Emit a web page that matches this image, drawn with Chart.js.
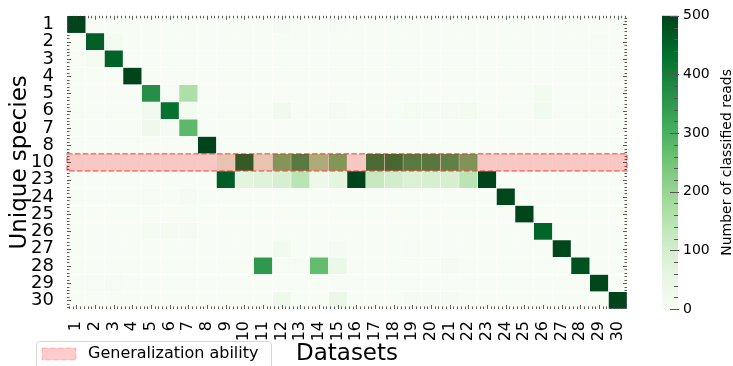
<!DOCTYPE html>
<html>
<head>
<meta charset="utf-8">
<script src="https://cdn.jsdelivr.net/npm/chart.js@4.4.0/dist/chart.umd.min.js"></script>
<style>
    html, body { margin: 0; padding: 0; background: #fff; }
</style>
</head>
<body>
<canvas id="myChart" width="733" height="366"></canvas>
<script>
// filas (especies) y columnas (datasets)
const species = ['1', '2', '3', '4', '5', '6', '7', '8', '10', '23', '24', '25', '26', '27', '28', '29', '30'];
const datasetNames = ['1', '2', '3', '4', '5', '6', '7', '8', '9', '10', '11', '12', '13', '14', '15',
    '16', '17', '18', '19', '20', '21', '22', '23', '24', '25', '26', '27', '28', '29', '30'];

// lecturas clasificadas por especie (fila) y dataset (columna 1..30)
const counts = [
    [500, 0, 0, 0, 0, 0, 0, 0, 0, 0, 0, 6, 0, 0, 5, 0, 0, 0, 0, 0, 0, 0, 0, 0, 0, 0, 0, 0, 0, 0],
    [0, 460, 15, 0, 0, 0, 0, 0, 0, 0, 0, 0, 0, 0, 0, 0, 0, 0, 0, 0, 0, 0, 0, 0, 0, 0, 0, 0, 4, 0],
    [0, 12, 455, 0, 0, 0, 0, 0, 0, 0, 0, 0, 0, 0, 0, 0, 0, 0, 0, 0, 0, 0, 0, 0, 0, 0, 0, 0, 0, 0],
    [0, 0, 0, 500, 0, 0, 0, 0, 0, 0, 0, 0, 0, 0, 0, 0, 0, 0, 0, 0, 0, 0, 0, 0, 0, 0, 0, 0, 0, 0],
    [0, 0, 0, 0, 370, 5, 165, 0, 0, 0, 0, 0, 0, 0, 0, 0, 0, 0, 0, 0, 0, 0, 0, 0, 0, 15, 0, 0, 0, 0],
    [0, 0, 0, 0, 20, 430, 15, 0, 0, 0, 0, 25, 0, 0, 8, 0, 0, 0, 12, 10, 8, 14, 0, 0, 0, 20, 0, 0, 0, 0],
    [0, 0, 0, 0, 30, 10, 280, 0, 0, 0, 0, 0, 0, 0, 0, 0, 0, 0, 0, 0, 0, 0, 0, 0, 0, 5, 0, 0, 0, 0],
    [0, 0, 0, 0, 0, 0, 0, 500, 0, 0, 0, 0, 0, 0, 0, 0, 0, 0, 0, 0, 0, 0, 0, 0, 0, 0, 0, 0, 0, 0],
    [0, 0, 0, 0, 0, 0, 0, 0, 70, 430, 70, 270, 350, 195, 270, 5, 385, 395, 350, 355, 330, 275, 0, 0, 0, 0, 0, 0, 0, 0],
    [0, 0, 0, 0, 0, 0, 0, 0, 460, 65, 75, 95, 145, 35, 65, 500, 125, 105, 85, 95, 95, 145, 500, 0, 0, 0, 0, 0, 0, 0],
    [0, 0, 0, 0, 5, 0, 10, 0, 0, 0, 0, 0, 0, 0, 0, 0, 0, 0, 0, 0, 0, 0, 0, 495, 0, 0, 0, 0, 0, 0],
    [0, 0, 0, 0, 0, 0, 0, 0, 0, 0, 0, 0, 0, 0, 0, 0, 0, 0, 0, 0, 0, 0, 0, 0, 500, 0, 0, 0, 0, 0],
    [0, 0, 0, 0, 12, 12, 6, 0, 0, 0, 0, 0, 0, 0, 0, 0, 0, 0, 0, 0, 0, 0, 0, 0, 0, 450, 0, 0, 0, 0],
    [0, 0, 0, 0, 0, 0, 0, 0, 0, 0, 0, 20, 0, 0, 8, 0, 0, 0, 5, 5, 0, 0, 0, 0, 0, 0, 495, 0, 0, 0],
    [0, 0, 0, 0, 0, 0, 0, 0, 0, 0, 350, 3, 5, 270, 40, 0, 0, 0, 0, 0, 8, 0, 0, 0, 0, 0, 0, 480, 0, 0],
    [0, 5, 5, 0, 0, 0, 0, 0, 0, 0, 0, 0, 0, 0, 0, 0, 0, 0, 0, 0, 0, 0, 0, 0, 0, 0, 0, 0, 495, 0],
    [0, 0, 0, 0, 0, 0, 0, 0, 0, 0, 0, 30, 0, 0, 40, 0, 0, 0, 8, 8, 8, 0, 0, 0, 0, 0, 0, 0, 0, 500]
];

const cbarTicks = [0, 100, 200, 300, 400, 500];
const vmax = 500;
const highlightRow = '10';
const legendText = 'Generalization ability';

// paleta Greens de matplotlib
const greens = [
    [247, 252, 245], [229, 245, 224], [199, 233, 192], [161, 217, 155], [116, 196, 118],
    [65, 171, 93], [35, 139, 69], [0, 109, 44], [0, 68, 27]
];

function colorVerde(v) {
    let t = Math.max(0, Math.min(1, v / vmax)) * (greens.length - 1);
    let i = Math.min(Math.floor(t), greens.length - 2);
    let f = t - i;
    let c = greens[i].map((a, k) => Math.round(a + (greens[i + 1][k] - a) * f));
    return 'rgb(' + c.join(',') + ')';
}

Chart.defaults.font.family = 'DejaVu Sans';
Chart.defaults.color = '#000';

const datas = {
    labels: species,
    datasets: datasetNames.map((name, c) => ({
        label: name,
        data: species.map(() => 1),
        backgroundColor: species.map((s, r) => colorVerde(counts[r][c])),
        borderColor: '#ffffff',
        borderWidth: 0.5,
        borderSkipped: false,
        barPercentage: 1,
        categoryPercentage: 1
    }))
};

// banda, marcas, barra de color y leyenda
const decoracion = {
    id: 'decoracion',
    afterDatasetsDraw(chart) {
        const ctx = chart.ctx, area = chart.chartArea, y = chart.scales.y;
        const h = (y.bottom - y.top) / species.length;
        const yc = y.getPixelForValue(species.indexOf(highlightRow));
        ctx.save();
        ctx.fillStyle = 'rgba(255,0,0,0.2)';
        ctx.fillRect(area.left, yc - h / 2, area.right - area.left, h);
        ctx.setLineDash([5.5, 2.4]);
        ctx.lineWidth = 1.5;
        ctx.strokeStyle = 'rgba(255,0,0,0.5)';
        ctx.strokeRect(area.left, yc - h / 2, area.right - area.left, h);
        ctx.restore();
    },
    afterDraw(chart) {
        const ctx = chart.ctx, area = chart.chartArea, x = chart.scales.x, y = chart.scales.y;
        const h = (y.bottom - y.top) / species.length;
        ctx.save();
        ctx.strokeStyle = '#333';
        ctx.lineWidth = 0.8;
        ctx.beginPath();
        // marcas hacia adentro en los cuatro lados
        for (let j = -2; 0.5 + j * 0.2 < datasetNames.length; j++) {
            const v = 0.5 + j * 0.2;
            if (v < 0) continue;
            const px = Math.round(x.getPixelForValue(v)) + 0.5;
            const len = j % 5 === 0 ? 4 : 2.5;
            ctx.moveTo(px, area.top); ctx.lineTo(px, area.top + len);
            ctx.moveTo(px, area.bottom); ctx.lineTo(px, area.bottom - len);
        }
        for (let j = -2; 0.5 + j * 0.2 < species.length; j++) {
            const t = 0.5 + j * 0.2;
            if (t < 0) continue;
            const py = Math.round(y.top + t * h) + 0.5;
            const len = j % 5 === 0 ? 4 : 2.5;
            ctx.moveTo(area.left, py); ctx.lineTo(area.left + len, py);
            ctx.moveTo(area.right, py); ctx.lineTo(area.right - len, py);
        }
        ctx.stroke();

        // barra de color
        const cbX = 662, cbW = 16, cbTop = area.top, cbBot = area.bottom;
        const grad = ctx.createLinearGradient(0, cbBot, 0, cbTop);
        greens.forEach((c, i) => grad.addColorStop(i / (greens.length - 1), 'rgb(' + c.join(',') + ')'));
        ctx.fillStyle = grad;
        ctx.fillRect(cbX, cbTop, cbW, cbBot - cbTop);
        ctx.strokeStyle = '#555';
        ctx.lineWidth = 1;
        ctx.beginPath();
        for (let v = 0; v <= vmax; v += 20) {
            const py = Math.round(cbBot - v / vmax * (cbBot - cbTop)) + 0.5;
            const len = cbarTicks.includes(v) ? 8 : 4;
            ctx.moveTo(cbX + cbW - len, py); ctx.lineTo(cbX + cbW + (cbarTicks.includes(v) ? 1 : 0), py);
        }
        ctx.stroke();
        ctx.fillStyle = '#000';
        ctx.font = '14px "DejaVu Sans"';
        ctx.textAlign = 'left';
        ctx.textBaseline = 'middle';
        cbarTicks.forEach(v => {
            ctx.fillText(String(v), cbX + cbW + 5, cbBot - v / vmax * (cbBot - cbTop));
        });
        ctx.save();
        ctx.translate(727, (cbTop + cbBot) / 2);
        ctx.rotate(-Math.PI / 2);
        ctx.textAlign = 'center';
        ctx.fillText('Number of classified reads', 0, 0);
        ctx.restore();

        // leyenda
        ctx.beginPath();
        ctx.roundRect(36.5, 341.5, 235, 32, 3);
        ctx.fillStyle = 'rgba(255,255,255,0.8)';
        ctx.fill();
        ctx.strokeStyle = '#d6d6d6';
        ctx.lineWidth = 1;
        ctx.stroke();
        ctx.fillStyle = 'rgba(255,0,0,0.2)';
        ctx.fillRect(42, 348, 34, 12);
        ctx.setLineDash([5.5, 2.4]);
        ctx.strokeStyle = 'rgba(255,0,0,0.2)';
        ctx.strokeRect(42, 348, 34, 12);
        ctx.setLineDash([]);
        ctx.fillStyle = '#000';
        ctx.font = '16px "DejaVu Sans"';
        ctx.fillText(legendText, 88, 354);
        ctx.restore();
    }
};

const config = {
    type: 'bar',
    data: datas,
    options: {
        indexAxis: 'y',
        responsive: false,
        animation: false,
        devicePixelRatio: 1,
        layout: { padding: { top: 11, right: 106, left: 0, bottom: 0 } },
        plugins: {
            legend: { display: false },
            tooltip: { enabled: false }
        },
        scales: {
            x: {
                type: 'linear',
                stacked: true,
                min: 0,
                max: datasetNames.length,
                grid: { display: false },
                border: { display: false },
                afterBuildTicks: s => { s.ticks = datasetNames.map((n, i) => ({ value: i + 0.5 })); },
                afterFit: s => { s.height = 57; },
                ticks: {
                    autoSkip: false,
                    minRotation: 90,
                    maxRotation: 90,
                    padding: 4,
                    font: { size: 16 },
                    callback: (v, i) => datasetNames[i]
                },
                title: { display: true, text: 'Datasets', font: { size: 23, lineHeight: 1 }, padding: 0 }
            },
            y: {
                type: 'category',
                stacked: true,
                grid: { display: false },
                border: { display: false },
                afterFit: s => { s.width = 67; },
                ticks: { autoSkip: false, padding: 5, font: { size: 18 } },
                title: { display: true, text: 'Unique species', font: { size: 23, lineHeight: 1 }, padding: { top: 9 } }
            }
        }
    },
    plugins: [decoracion]
};

const myChart = new Chart(document.getElementById('myChart'), config);
</script>
</body>
</html>
